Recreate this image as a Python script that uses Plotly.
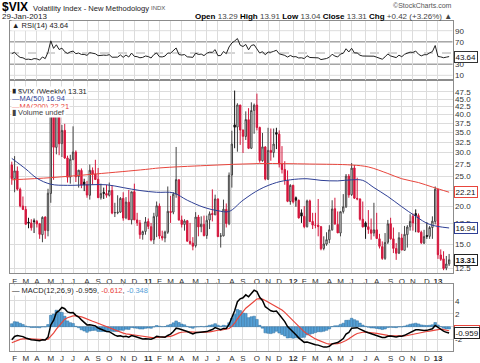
import math
import pandas as pd
import plotly.graph_objects as go

W, H = 480, 363
FONT = "Liberation Sans, Arial, sans-serif"

# ---------------- data (weekly $VIX bars) ----------------
dates = list(pd.date_range("2010-01-29", periods=158, freq="W-FRI"))

close_2010 = [24.62, 26.11, 22.73, 20.02, 19.50, 17.42, 17.58, 16.97, 17.77, 17.47, 16.14, 18.36, 16.62,
              22.05, 40.95, 31.24, 40.10, 32.07, 35.48, 28.79, 24.88, 28.53, 30.12, 24.98, 26.25, 23.47,
              23.50, 21.74, 26.24, 25.49, 24.45, 21.31, 21.99, 22.01, 21.71, 22.50, 18.96, 19.03, 19.08,
              21.20, 18.26, 20.61, 18.04, 22.28, 18.01, 17.61, 16.11, 16.47, 17.75]
open_2010 = [27.3, 24.6, 26.1, 22.7, 20.0, 19.5, 17.7, 17.6, 17.9, 17.8, 17.5, 16.1, 18.4,
             16.6, 22.0, 40.9, 31.2, 40.1, 32.1, 35.5, 28.8, 24.9, 28.5, 30.1, 25.0, 26.2,
             24.0, 23.5, 21.7, 26.2, 25.5, 24.5, 21.3, 22.2, 22.0, 21.7, 22.5, 19.0, 19.0,
             19.1, 21.2, 18.3, 20.6, 18.0, 22.3, 18.0, 17.6, 16.1, 16.5]
high_2010 = [28.0, 29.2, 27.0, 23.0, 21.5, 20.0, 18.3, 18.1, 18.2, 18.0, 17.6, 18.5, 18.5,
             22.8, 42.2, 41.0, 48.2, 41.9, 37.0, 37.3, 29.3, 29.5, 36.6, 30.5, 26.3, 26.6,
             24.6, 24.2, 27.4, 26.8, 28.4, 26.7, 23.7, 23.0, 23.5, 23.9, 23.4, 20.5, 21.7,
             21.4, 22.2, 21.4, 22.6, 22.3, 23.7, 19.0, 18.0, 16.6, 18.4]
low_2010 = [23.5, 22.2, 22.5, 19.8, 19.4, 17.4, 16.9, 16.6, 16.3, 17.0, 15.6, 15.2, 15.6,
            15.9, 20.5, 24.4, 29.6, 29.4, 29.0, 28.6, 23.9, 23.7, 28.3, 24.0, 23.0, 22.9,
            22.4, 21.3, 21.0, 23.5, 24.4, 21.3, 21.0, 21.1, 21.3, 21.5, 18.8, 18.4, 18.8,
            19.0, 17.9, 18.1, 18.0, 17.4, 18.0, 17.2, 15.6, 15.5, 16.1]

close_2011 = [17.14, 15.46, 18.47, 20.04, 15.93, 15.69, 16.43, 19.22, 19.06, 21.88, 24.44, 18.00, 17.40,
              17.87, 15.32, 15.07, 14.75, 18.40, 17.07, 17.43, 15.98, 17.95, 18.86, 18.75, 21.10, 15.87,
              15.95, 19.53, 17.52, 25.25, 32.00, 36.36, 43.05, 35.59, 33.92, 38.52, 30.98, 41.25, 42.96,
              36.27, 28.24, 31.32, 24.53, 30.50, 30.04, 32.00, 34.47, 27.52, 26.38, 24.29, 20.73, 23.40]
open_2011 = [17.8, 17.1, 15.5, 18.5, 20.0, 15.9, 15.7, 16.4, 19.2, 19.1, 21.9, 24.4, 18.0,
             17.4, 17.9, 15.3, 15.1, 14.8, 18.4, 17.1, 17.4, 16.0, 18.0, 18.9, 18.7, 21.1,
             15.9, 15.95, 19.5, 17.5, 25.3, 37.0, 36.4, 43.0, 35.6, 33.9, 38.5, 31.0, 41.3,
             43.0, 36.3, 28.2, 31.3, 24.5, 30.5, 30.0, 34.9, 34.5, 27.5, 26.4, 24.3, 20.7]
high_2011 = [18.2, 17.6, 19.0, 20.7, 20.4, 16.6, 16.6, 23.2, 21.6, 22.2, 31.3, 24.5, 18.6,
             18.1, 18.0, 17.6, 15.8, 19.1, 18.7, 18.5, 18.6, 18.6, 19.2, 22.7, 21.8, 21.2,
             16.3, 21.0, 20.4, 25.8, 35.4, 48.0, 43.6, 43.1, 35.7, 41.0, 42.0, 43.9, 43.5,
             46.9, 36.5, 34.8, 31.5, 36.2, 36.0, 36.0, 36.2, 35.5, 31.5, 28.1, 26.2, 23.6]
low_2011 = [16.8, 15.3, 15.0, 15.8, 15.6, 15.4, 15.2, 16.2, 17.6, 18.8, 21.3, 17.9, 17.0,
            16.6, 15.3, 14.9, 14.3, 14.6, 15.9, 16.4, 15.9, 15.6, 16.8, 17.8, 18.7, 15.8,
            14.6, 15.9, 17.0, 17.3, 23.0, 31.0, 30.2, 31.8, 29.9, 33.0, 30.8, 30.8, 34.6,
            35.5, 27.8, 28.0, 24.3, 24.4, 28.2, 28.9, 30.8, 26.8, 25.6, 23.5, 20.6, 20.2]

close_2012 = [20.63, 20.91, 18.28, 18.53, 17.10, 20.79, 17.78, 17.31, 17.29, 17.11, 14.47, 15.00, 15.50,
              16.70, 19.55, 17.44, 16.32, 19.16, 19.89, 25.10, 21.76, 26.66, 21.23, 21.11, 18.11, 17.08,
              17.10, 16.74, 16.27, 16.70, 15.64, 14.74, 13.45, 15.18, 17.47, 15.60, 14.51, 13.98, 15.73,
              14.33, 16.14, 17.06, 17.81, 17.59, 18.61, 16.41, 15.14, 15.87, 15.90, 17.00, 17.84, 22.72]
open_2012 = [23.4, 21.3, 20.9, 19.0, 18.5, 17.1, 20.8, 17.8, 17.3, 17.3, 17.1, 14.5, 15.0,
             15.5, 16.7, 19.6, 17.4, 16.3, 19.2, 19.9, 25.1, 21.8, 26.7, 21.2, 21.1, 18.1,
             17.6, 17.1, 16.7, 16.3, 16.7, 15.6, 14.7, 13.45, 15.2, 17.5, 15.6, 14.5, 14.0,
             15.7, 14.3, 16.1, 17.1, 18.5, 18.9, 18.6, 16.4, 15.1, 16.0, 15.9, 17.0, 17.8]
high_2012 = [23.5, 21.5, 21.0, 19.5, 20.0, 21.0, 21.0, 19.0, 19.0, 21.1, 17.2, 15.9, 16.4,
             17.3, 20.9, 21.3, 19.2, 19.2, 21.9, 25.5, 25.5, 27.7, 27.3, 24.8, 21.2, 20.7,
             17.8, 19.4, 18.2, 20.5, 19.0, 16.2, 15.3, 16.3, 18.0, 18.3, 17.0, 15.1, 16.4,
             16.2, 17.2, 17.3, 18.8, 18.9, 19.5, 18.9, 16.6, 16.7, 17.7, 17.2, 18.5, 23.2]
low_2012 = [20.4, 19.9, 18.2, 17.6, 16.9, 17.0, 17.7, 16.8, 16.9, 15.9, 14.3, 14.3, 14.8,
            15.1, 16.6, 17.4, 16.3, 15.9, 18.9, 19.7, 21.3, 21.6, 21.1, 20.9, 17.9, 17.0,
            15.6, 16.2, 15.5, 15.9, 15.6, 14.5, 13.3, 13.3, 15.0, 15.5, 14.0, 13.3, 13.9,
            14.3, 14.3, 14.6, 16.6, 16.6, 16.4, 16.4, 15.0, 15.0, 15.6, 15.6, 15.6, 17.4]

close_2013 = [13.83, 13.36, 12.46, 12.89, 13.31]
open_2013 = [22.7, 13.8, 13.4, 12.5, 12.9]
high_2013 = [22.7, 14.4, 14.2, 13.7, 13.91]
low_2013 = [13.4, 13.2, 12.3, 12.3, 12.7]

closes = close_2010 + close_2011 + close_2012 + close_2013
opens = open_2010 + open_2011 + open_2012 + open_2013
highs = high_2010 + high_2011 + high_2012 + high_2013
lows = low_2010 + low_2011 + low_2012 + low_2013
PREV_CLOSE = 27.31  # close of the bar before the first plotted bar

# moving averages
ma50_dates = ["2010-01-29", "2010-03-05", "2010-04-02", "2010-05-07", "2010-06-18", "2010-08-13",
              "2010-09-24", "2010-11-05", "2010-12-17", "2011-01-28", "2011-03-11", "2011-04-15",
              "2011-05-27", "2011-07-01", "2011-07-29", "2011-09-02", "2011-10-14", "2011-11-25",
              "2011-12-30", "2012-02-10", "2012-03-16", "2012-04-27", "2012-06-01", "2012-06-29",
              "2012-07-27", "2012-08-31", "2012-10-05", "2012-11-09", "2012-12-14", "2013-02-01"]
ma50_vals = [28.7, 26.5, 24.7, 23.6, 23.4, 23.5, 23.5, 23.0, 22.5, 22.2, 22.1, 20.9,
             19.8, 19.3, 19.2, 20.9, 22.7, 23.9, 24.4, 24.6, 24.3, 24.2, 24.4, 24.3,
             23.0, 21.5, 19.9, 18.5, 17.4, 16.94]
ma200_dates = ["2010-01-29", "2010-05-07", "2010-08-27", "2010-12-31", "2011-02-04", "2011-06-03",
               "2011-10-14", "2012-02-17", "2012-06-01", "2012-07-13", "2012-08-31", "2012-10-05",
               "2012-11-16", "2012-12-21", "2013-02-01"]
ma200_vals = [24.4, 24.8, 25.5, 26.4, 26.7, 27.2, 27.6, 27.5, 27.3, 26.9, 25.6, 24.6,
              23.9, 23.1, 22.21]

# indicator starting states
RSI_SEED_GAIN, RSI_SEED_LOSS = 1.2, 1.05
EMA12_SEED, EMA26_SEED, SIGNAL_SEED = 21.0, 23.5, -2.6

price_ticks = [12.5, 15.0, 17.5, 20.0, 22.5, 25.0, 27.5, 30.0, 32.5, 35.0, 37.5, 40.0, 42.5, 45.0, 47.5]
rsi_ticks = [10, 30, 50, 70, 90]
macd_ticks = [-2, 0, 2, 4]
month_letters = ["J", "F", "M", "A", "M", "J", "J", "A", "S", "O", "N", "D"]
first_label_month, last_label_month = (2010, 2), (2013, 1)

# ---------------- indicators ----------------
def rsi(vals, prev, g0, l0, n=14):
    out, ag, al, pc = [], g0, l0, prev
    for c in vals:
        ch = c - pc
        ag = (ag * (n - 1) + max(ch, 0)) / n
        al = (al * (n - 1) + max(-ch, 0)) / n
        out.append(100 - 100 / (1 + ag / al))
        pc = c
    return out


def ema(vals, n, seed):
    k, e, out = 2 / (n + 1), seed, []
    for v in vals:
        e = e + k * (v - e)
        out.append(e)
    return out


rsi_vals = rsi(closes, PREV_CLOSE, RSI_SEED_GAIN, RSI_SEED_LOSS)
e12 = ema(closes, 12, EMA12_SEED)
e26 = ema(closes, 26, EMA26_SEED)
macd = [a - b for a, b in zip(e12, e26)]
signal = ema(macd, 9, SIGNAL_SEED)
hist = [a - b for a, b in zip(macd, signal)]

# ---------------- figure ----------------
fig = go.Figure()

prevs = [PREV_CLOSE] + closes[:-1]
up = [i for i in range(len(closes)) if closes[i] >= prevs[i]]
dn = [i for i in range(len(closes)) if closes[i] < prevs[i]]
pick = lambda arr, idx: [arr[i] for i in idx]

RED = "#d4163c"
fig.add_trace(go.Candlestick(
    x=pick(dates, up), open=pick(opens, up), high=pick(highs, up), low=pick(lows, up), close=pick(closes, up),
    increasing=dict(line=dict(color="#444444", width=1), fillcolor="white"),
    decreasing=dict(line=dict(color="#111111", width=1), fillcolor="#111111"),
    whiskerwidth=0, xaxis="x", yaxis="y", hoverinfo="skip", showlegend=False))
fig.add_trace(go.Candlestick(
    x=pick(dates, dn), open=pick(opens, dn), high=pick(highs, dn), low=pick(lows, dn), close=pick(closes, dn),
    increasing=dict(line=dict(color=RED, width=1), fillcolor="white"),
    decreasing=dict(line=dict(color=RED, width=1), fillcolor=RED),
    whiskerwidth=0, xaxis="x", yaxis="y", hoverinfo="skip", showlegend=False))

fig.add_trace(go.Scatter(x=ma200_dates, y=ma200_vals, mode="lines", line=dict(color="#e8453c", width=1, shape="spline"),
                         xaxis="x", yaxis="y", hoverinfo="skip", showlegend=False))
fig.add_trace(go.Scatter(x=ma50_dates, y=ma50_vals, mode="lines", line=dict(color="#2e3f95", width=1, shape="spline"),
                         xaxis="x", yaxis="y", hoverinfo="skip", showlegend=False))

# RSI
fig.add_trace(go.Scatter(x=dates, y=rsi_vals, mode="lines", line=dict(color="#222222", width=1),
                         xaxis="x2", yaxis="y2", hoverinfo="skip", showlegend=False))

# MACD
fig.add_trace(go.Bar(x=dates, y=hist, marker=dict(color="#55a0d6", line=dict(color="#2f6f9f", width=0.5)),
                     width=7 * 86400000 * 0.95, xaxis="x3", yaxis="y3", hoverinfo="skip", showlegend=False))
fig.add_trace(go.Scatter(x=dates, y=signal, mode="lines", line=dict(color="#e8453c", width=1.2),
                         xaxis="x3", yaxis="y3", hoverinfo="skip", showlegend=False))
fig.add_trace(go.Scatter(x=dates, y=macd, mode="lines", line=dict(color="#000000", width=1.5),
                         xaxis="x3", yaxis="y3", hoverinfo="skip", showlegend=False))

# month ticks at first bar of each month
tickvals, ticktext, seen = [], [], set()
for d in dates:
    key = (d.year, d.month)
    if key not in seen:
        seen.add(key)
        if first_label_month <= key <= last_label_month:
            tickvals.append(d)
            ticktext.append("<b>%02d</b>" % (d.year % 100) if d.month == 1 else month_letters[d.month - 1])


def px_x(p):
    return p / W


def px_y(p):
    return 1 - p / H


XD = [px_x(10), px_x(452.5)]
x0 = pd.Timestamp("2010-01-24 12:00")
x1 = pd.Timestamp("2013-02-09 12:00")
GRID = "#dcdcdc"
BORDER = "#8c8c8c"

xcommon = dict(type="date", range=[x0, x1], domain=XD, tickvals=tickvals, ticktext=ticktext, tickangle=0,
               showgrid=True, gridcolor=GRID, gridwidth=1, showline=True, linecolor=BORDER, mirror=True,
               ticks="", tickfont=dict(family=FONT, size=8, color="#333"), zeroline=False, fixedrange=True)
ycommon = dict(side="right", showline=True, linecolor=BORDER, mirror=True, ticks="",
               tickfont=dict(family=FONT, size=8, color="#333"), zeroline=False, fixedrange=True)

fig.update_layout(
    width=W, height=H, margin=dict(l=0, r=0, t=0, b=0), autosize=False,
    paper_bgcolor="white", plot_bgcolor="white", showlegend=False, bargap=0,
    xaxis=dict(**xcommon, anchor="y", rangeslider=dict(visible=False), showticklabels=True),
    xaxis2=dict(**xcommon, anchor="y2", showticklabels=False, matches="x"),
    xaxis3=dict(**xcommon, anchor="y3", showticklabels=True, matches="x"),
    yaxis=dict(**ycommon, type="log", domain=[px_y(273), px_y(80)], range=[math.log10(12.04), math.log10(52)],
               tickvals=price_ticks, ticktext=["%.1f" % v for v in price_ticks],
               showgrid=True, gridcolor=GRID, anchor="x"),
    yaxis2=dict(**ycommon, domain=[px_y(80), px_y(21)], range=[1.6, 107.4], tickvals=rsi_ticks,
                ticktext=[str(v) for v in rsi_ticks], showgrid=False, anchor="x2"),
    yaxis3=dict(**ycommon, domain=[px_y(350.7), px_y(284)], range=[-3.72, 6.62], tickvals=macd_ticks,
                ticktext=[str(v) for v in macd_ticks], showgrid=True, gridcolor=GRID, anchor="x3"),
)

# RSI reference lines
shapes = []
for lvl, col, dash in [(90, GRID, "solid"), (10, GRID, "solid"), (70, "#777777", "solid"),
                       (30, "#777777", "solid"), (50, "#aaaaaa", "dash")]:
    shapes.append(dict(type="line", xref="x2 domain", yref="y2", x0=0, x1=1, y0=lvl, y1=lvl,
                       line=dict(color=col, width=1, dash=dash), layer="below"))
fig.update_layout(shapes=shapes)

anns = []


def ann(text, px, py, size=8, color="#000", xanchor="left", bg=None, family=FONT):
    anns.append(dict(text=text, x=px_x(px), y=px_y(py), xref="paper", yref="paper", xanchor=xanchor,
                     yanchor="middle", showarrow=False, font=dict(family=family, size=size, color=color),
                     bgcolor=bg, borderpad=0))


# header
ann("<b>$VIX</b>", 1, 7, size=12)
ann("Volatility Index - New Methodology", 32, 8, size=7.6, color="#222")
ann("INDX", 150, 8.5, size=6, color="#555")
ann("29-Jan-2013", 1, 16, size=8, color="#222")
ann("<b>Open</b> <span style='color:#444'>13.29</span> <b>High</b> <span style='color:#444'>13.91</span> "
    "<b>Low</b> <span style='color:#444'>13.04</span> <b>Close</b> <span style='color:#444'>13.31</span> "
    "<b>Chg</b> <span style='color:#444'>+0.42 (+3.26%) ▲</span>", 453, 16, size=8, xanchor="right")
ann("©StockCharts.com", 453, 5, size=7, color="#555", xanchor="right")

# panel legends
ann("▲ RSI(14) 43.64", 11, 25.5, size=7.5, color="#222", bg="white")
ann("▮ $VIX (Weekly) 13.31", 11, 91.5, size=7.5, color="#222", bg="white")
ann("—MA(50) 16.94", 11, 98.8, size=7.5, color="#2e3f95", bg="white")
ann("—MA(200) 22.21", 11, 106, size=7.5, color="#e8453c", bg="white")
ann("▮ Volume undef", 11, 113, size=7.5, color="#444", bg="white")
ann("— MACD(12,26,9) -0.959, <span style='color:#e8453c'>-0.612</span>, "
    "<span style='color:#55a0d6'>-0.348</span>", 11, 290.5, size=7.5, color="#222", bg="white")


def vbox(text, yval, yref, border, bold=False):
    anns.append(dict(text=("<b>%s</b>" % text) if bold else text, x=px_x(453.5), y=yval, xref="paper", yref=yref,
                     xanchor="left", yanchor="middle", showarrow=False,
                     font=dict(family=FONT, size=8, color="#111"), bgcolor="white", bordercolor=border,
                     borderwidth=1, borderpad=0.5))


vbox("43.64", 43.64, "y2", "#333")
vbox("22.21", math.log10(22.21), "y", "#e8453c")
vbox("16.94", math.log10(16.94), "y", "#2e3f95")
vbox("13.31", math.log10(13.31), "y", "#222", bold=True)
vbox("-0.612", -0.612, "y3", "#e8453c")
vbox("-0.959", -0.959, "y3", "#222")

fig.update_layout(annotations=anns)
fig.write_html("out.html", config={"displayModeBar": False, "staticPlot": True},
               post_script="document.body.style.margin='0';document.body.style.padding='0';")
